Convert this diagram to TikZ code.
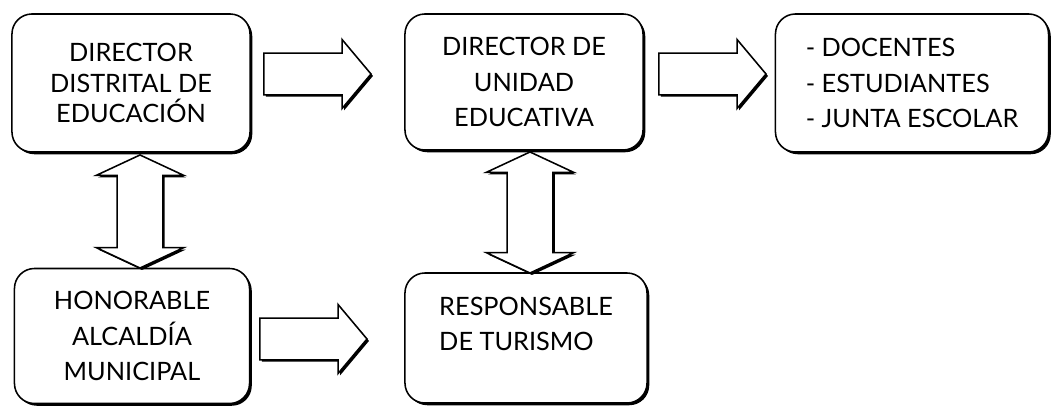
\documentclass[tikz,border=0pt]{standalone}
\usepackage{fontspec}
\setmainfont{Lato}
\usepackage{tikz}
\usetikzlibrary{shapes.arrows}
\usetikzlibrary{shadows}
\usetikzlibrary{positioning}
\tikzset{
    mybox/.style = {rectangle, rounded corners=0.5cm, draw=black, line width=1.1pt, fill=white, align=center, minimum width=5.95cm, minimum height=3.4cm, drop shadow={shadow xshift=1.6pt, shadow yshift=-1.6pt, opacity=1, fill=black}},
    myboxl/.style = {mybox, align=left},
    myarrow/.style = {single arrow, anchor=tip, draw=black, line width=1.1pt, fill=white, inner xsep=0pt, inner ysep=0.5cm, minimum height=2.675cm, single arrow head extend=0.34cm, single arrow tip angle=100, drop shadow={shadow xshift=1.4pt, shadow yshift=-1.4pt, opacity=1, fill=black}},
    mydarrow/.style = {double arrow, rotate=90, draw=black, line width=1.1pt, fill=white, inner xsep=0pt, inner ysep=0.55cm, double arrow head extend=0.525cm, double arrow tip angle=130, drop shadow={shadow xshift=1.4pt, shadow yshift=-1.4pt, opacity=1, fill=black}}
}
\begin{document}
\begin{tikzpicture}[
	x=0.025cm,
	y=-0.025cm,
	font=\fontsize{18}{25}\selectfont
]
\useasboundingbox (0,0) rectangle (1053,406);
\node[mybox, minimum height=3.45cm, font=\fontsize{18}{22}\selectfont] at (131,83) (dde) {DIRECTOR\\DISTRITAL DE\\EDUCACIÓN};
\node[mybox] at (524,82) (due) {DIRECTOR DE\\UNIDAD\\EDUCATIVA};
\node[myboxl, minimum width=6.825cm, minimum height=3.45cm] at (912,83) (mie) {- DOCENTES\\- ESTUDIANTES\\- JUNTA ESCOLAR};
\node[mybox, minimum width=5.875cm, minimum height=3.375cm] at (132,336) (ham) {HONORABLE\\ALCALDÍA\\MUNICIPAL};
\node[myboxl, minimum width=6.05cm, minimum height=3.25cm] at (526,338) (rtu) {RESPONSABLE\\DE TURISMO\\[-12pt]\strut};
%
\node[myarrow] at (372,74) (f1) {};
\node[myarrow] at (767,74) (f2) {};
\node[myarrow] at (368,339) (f3) {};
%
\node[mydarrow, minimum height=2.825cm] at (140,211.5) (d1) {};
\node[mydarrow, minimum height=3.025cm] at (530,212.5) (d2) {};
\end{tikzpicture}
\end{document}
